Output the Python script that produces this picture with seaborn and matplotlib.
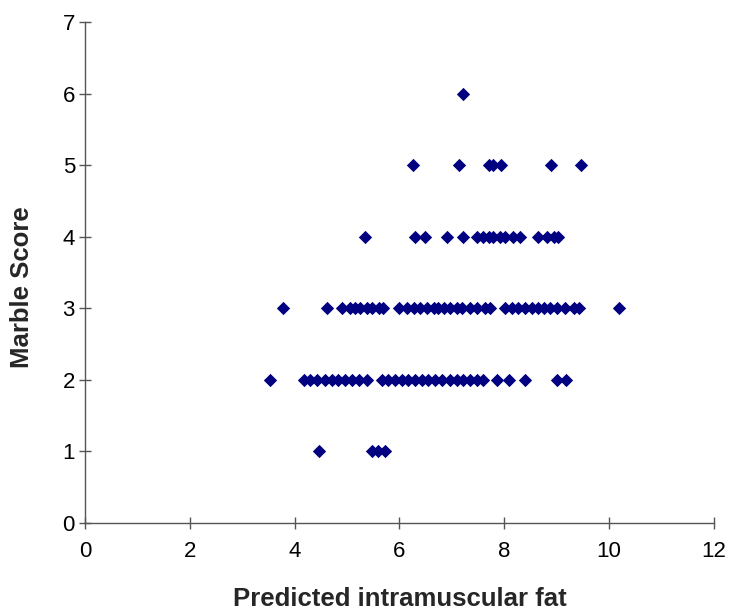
import matplotlib
matplotlib.use("Agg")
import matplotlib.pyplot as plt
import seaborn as sns
import pandas as pd

# Predicted intramuscular fat, grouped by marble score
fat_score1 = [4.47, 5.48, 5.59, 5.73]
fat_score2 = [3.53, 4.17, 4.29, 4.42, 4.58, 4.71, 4.83, 4.96, 5.09, 5.22, 5.38,
              5.66, 5.79, 5.92, 6.04, 6.17, 6.30, 6.43, 6.55, 6.68, 6.81, 6.97,
              7.09, 7.22, 7.35, 7.48, 7.60, 7.86, 8.08, 8.40, 9.00, 9.18]
fat_score3 = [3.78, 4.61, 4.90, 5.06, 5.15, 5.25, 5.38, 5.47, 5.60, 5.69, 5.99,
              6.14, 6.27, 6.39, 6.52, 6.65, 6.74, 6.84, 6.97, 7.09, 7.19, 7.35,
              7.48, 7.63, 7.73, 8.02, 8.14, 8.27, 8.40, 8.52, 8.65, 8.75, 8.87,
              9.00, 9.16, 9.33, 9.42, 10.18]
fat_score4 = [5.34, 6.30, 6.49, 6.90, 7.22, 7.48, 7.60, 7.70, 7.79, 7.92, 8.02,
              8.17, 8.30, 8.65, 8.81, 8.94, 9.03]
fat_score5 = [6.25, 7.13, 7.70, 7.78, 7.93, 8.89, 9.46]
fat_score6 = [7.21]

x_ticks = [0, 2, 4, 6, 8, 10, 12]
y_ticks = [0, 1, 2, 3, 4, 5, 6, 7]

groups = [fat_score1, fat_score2, fat_score3, fat_score4, fat_score5, fat_score6]
fat = [v for g in groups for v in g]
score = [i + 1 for i, g in enumerate(groups) for _ in g]
df = pd.DataFrame({"fat": fat, "score": score})

sns.set_style("white")
plt.rcParams["font.family"] = ["Liberation Sans", "DejaVu Sans"]

fig = plt.figure(figsize=(7.31, 6.10), dpi=100)
ax = fig.add_axes([0.1163, 0.1426, 0.8604, 0.8214])

sns.scatterplot(data=df, x="fat", y="score", ax=ax, marker="D", s=46,
                color="#000080", linewidth=0, legend=False, clip_on=False)

ax.set_xlim(0, 12)
ax.set_ylim(0, 7)
ax.set_xticks(x_ticks)
ax.set_yticks(y_ticks)

for side in ("top", "right"):
    ax.spines[side].set_visible(False)
for side in ("left", "bottom"):
    ax.spines[side].set_color("#555555")
    ax.spines[side].set_linewidth(1.0)

ax.tick_params(axis="both", which="major", direction="inout", length=8.5,
               width=1.0, color="#555555", labelsize=16, labelcolor="black",
               bottom=True, left=True)
ax.tick_params(axis="x", pad=9)
ax.tick_params(axis="y", pad=3)

ax.set_xlabel("Predicted intramuscular fat", fontsize=18.5, fontweight="bold",
              labelpad=18)
ax.set_ylabel("Marble Score", fontsize=18.5, fontweight="bold")
ax.yaxis.set_label_coords(-0.081, 0.47)

fig.savefig("out.png", dpi=100)
